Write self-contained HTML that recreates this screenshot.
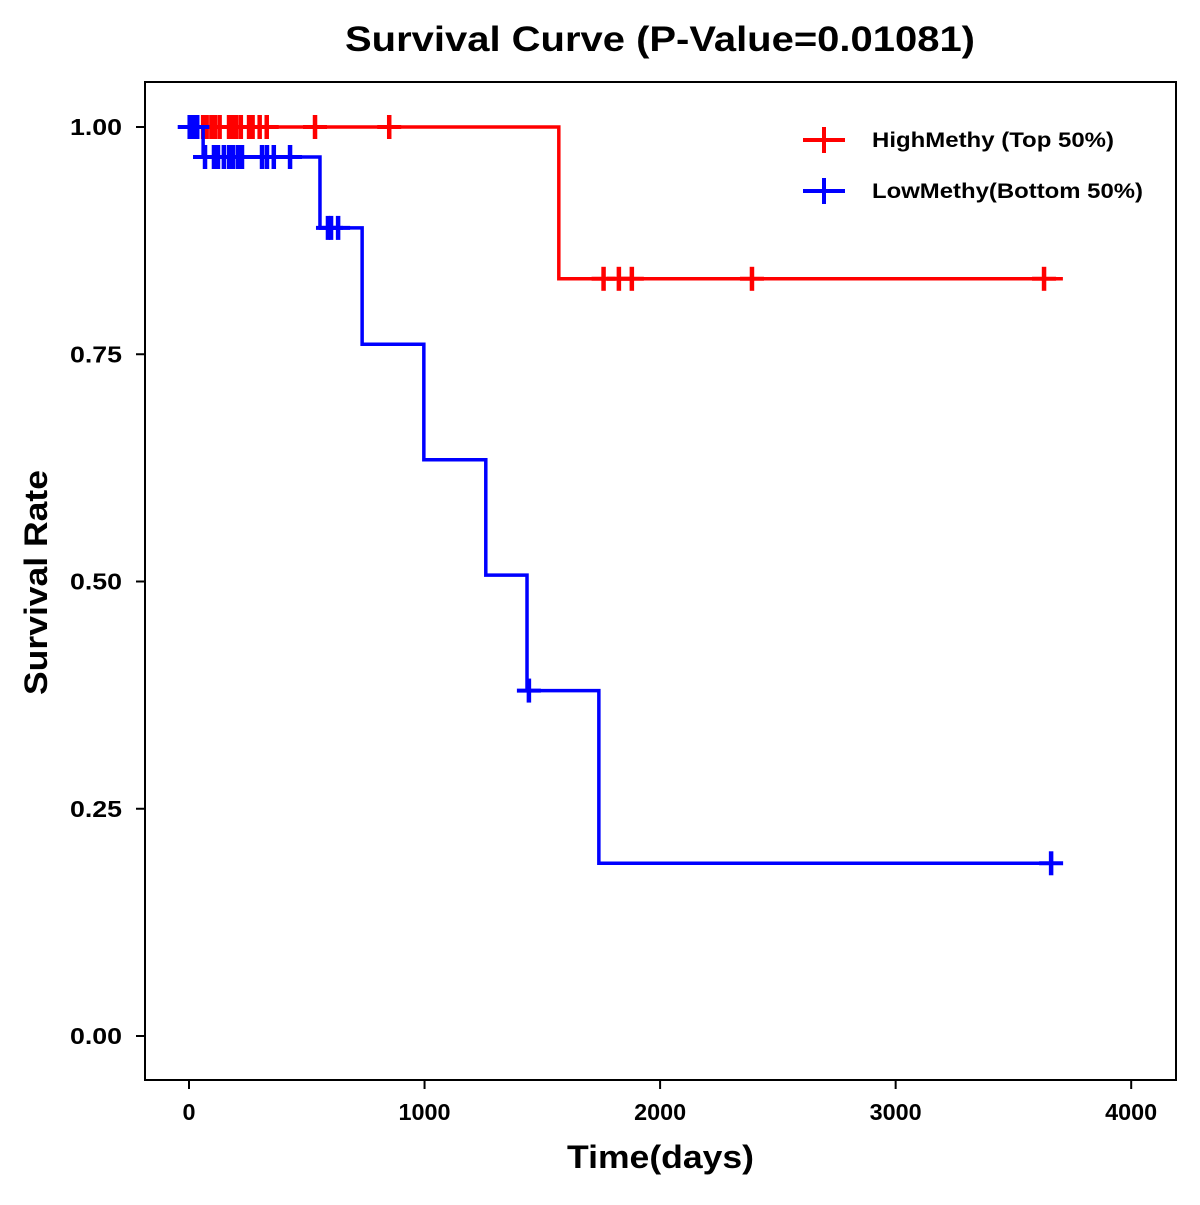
<!DOCTYPE html>
<html><head><meta charset="utf-8">
<style>
body{margin:0;background:#fff;}
svg text{font-family:"Liberation Sans",Arial,sans-serif;font-weight:bold;fill:#000;}
</style></head>
<body>
<svg id="chart" width="1200" height="1200" xmlns="http://www.w3.org/2000/svg">
<rect width="1200" height="1200" fill="#fff"/>
<text x="345" y="51" font-size="35" textLength="630" lengthAdjust="spacingAndGlyphs">Survival Curve (P-Value=0.01081)</text>
<rect x="145" y="82" width="1031" height="998" fill="none" stroke="#000" stroke-width="2"/>
<text x="567" y="1168" font-size="32" textLength="187" lengthAdjust="spacingAndGlyphs">Time(days)</text>
<text transform="translate(47,695) rotate(-90)" font-size="32" textLength="225" lengthAdjust="spacingAndGlyphs">Survival Rate</text>
<g id="axes"></g>
<g id="series"></g>
<g>
<line x1="803" y1="140" x2="845" y2="140" stroke="#f00" stroke-width="4"/>
<line x1="824" y1="127" x2="824" y2="153" stroke="#f00" stroke-width="4"/>
<text x="872" y="147" font-size="21" textLength="242" lengthAdjust="spacingAndGlyphs">HighMethy (Top 50%)</text>
<line x1="803" y1="191" x2="845" y2="191" stroke="#00f" stroke-width="4"/>
<line x1="824" y1="178" x2="824" y2="204" stroke="#00f" stroke-width="4"/>
<text x="872" y="198" font-size="21" textLength="271" lengthAdjust="spacingAndGlyphs">LowMethy(Bottom 50%)</text>
</g>
</svg>
<script>
const xTicks=[0,1000,2000,3000,4000];
const yTicks=[0,0.25,0.5,0.75,1];
const yTickLabels=["0.00","0.25","0.50","0.75","1.00"];
const highTimes=[0,1570,3710];
const highSurv=[1,0.833,0.833];
const highCensor=[5,15,30,60,75,95,110,130,170,185,200,220,255,270,300,330,535,850,1760,1825,1880,2390,3630];
const lowTimes=[0,60,556,735,997,1260,1435,1740,3660];
const lowSurv=[1,0.967,0.889,0.761,0.634,0.507,0.380,0.190,0.190];
const lowCensor=[3,10,18,25,35,68,106,123,148,170,187,208,225,310,331,360,429,590,603,633,1443,3660];

const NS="http://www.w3.org/2000/svg";
const X=d=>189+d*0.23555;
const Y=s=>1036-s*909;
const axes=document.getElementById('axes');
const series=document.getElementById('series');
function mk(tag,attrs,parent){const e=document.createElementNS(NS,tag);for(const k in attrs)e.setAttribute(k,attrs[k]);parent.appendChild(e);return e;}

xTicks.forEach(t=>{
  const l=mk('line',{x1:X(t),x2:X(t),y1:1080,y2:1089,stroke:'#000','stroke-width':2},axes);
  
  
  const s=String(t);
  const tx=mk('text',{x:X(t)-s.length*6.5,y:1120,'font-size':23,textLength:s.length*13,lengthAdjust:'spacingAndGlyphs'},axes);
  tx.textContent=s;
  
  
});
yTicks.forEach((t,i)=>{
  const l=mk('line',{x1:136,x2:145,y1:Y(t),y2:Y(t),stroke:'#000','stroke-width':2},axes);
  
  
  const tx=mk('text',{x:70,y:Y(t)+8,'font-size':23,textLength:52,lengthAdjust:'spacingAndGlyphs'},axes);
  tx.textContent=yTickLabels[i];
  
  
});

function survAt(times,surv,t){let s=surv[0];for(let i=0;i<times.length;i++){if(times[i]<=t)s=surv[i];}return s;}
function drawSeries(times,surv,cens,color,name){
  let d='M'+X(times[0])+','+Y(surv[0]);
  for(let i=1;i<times.length;i++){d+=' H'+X(times[i])+' V'+Y(surv[i]);}
  const p=mk('path',{d:d,fill:'none',stroke:color,'stroke-width':3.5},series);
  
  
  cens.forEach(c=>{
    const s=survAt(times,surv,c);
    const g=mk('g',{},series);
    
    
    mk('line',{x1:X(c)-12,x2:X(c)+12,y1:Y(s),y2:Y(s),stroke:color,'stroke-width':4},g);
    mk('line',{x1:X(c),x2:X(c),y1:Y(s)-12,y2:Y(s)+12,stroke:color,'stroke-width':4.5},g);
  });
}
drawSeries(highTimes,highSurv,highCensor,'#f00','high-methy');
drawSeries(lowTimes,lowSurv,lowCensor,'#00f','low-methy');
</script>
</body></html>
